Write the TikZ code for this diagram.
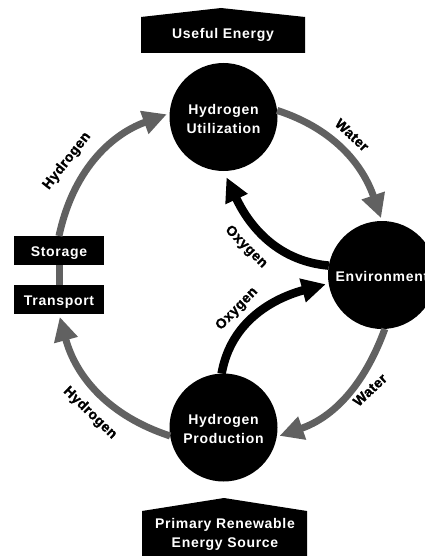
\documentclass[tikz,border=0pt]{standalone}
\usepackage{fontspec}
\setmainfont{Liberation Sans}
\newfontfamily\sidefont[BoldFont={Liberation Sans Bold},BoldFeatures={FakeBold=1.2,LetterSpace=3}]{Liberation Sans}
\newfontfamily\hubfont[BoldFont={Liberation Sans Bold},BoldFeatures={LetterSpace=5}]{Liberation Sans}
\usetikzlibrary{arrows.meta}
\newcommand{\topstrut}{\rule{0pt}{14pt}}
\tikzset{
  x=1pt,y=1pt,
  lab/.style={text=white,font=\hubfont\bfseries\fontsize{14}{19}\selectfont,align=center,inner sep=0pt},
  hub/.style={circle,fill=black,minimum size=108pt,inner sep=0pt,outer sep=0pt,lab},
  tag/.style={fill=black,minimum width=90pt,minimum height=29pt,inner sep=0pt,outer sep=0pt,lab},
  flow/.style={line width=7pt,-{Triangle[width=23pt,length=24pt]},shorten >=3pt},
  gflow/.style={flow,draw=black!62,color=black!62},
  bflow/.style={flow,draw=black,line width=8.5pt},
  side/.style={text=black,font=\sidefont\bfseries\fontsize{14}{16}\selectfont,inner sep=0pt},
}
\begin{document}
\begin{tikzpicture}
\useasboundingbox (0,0) rectangle (424,-556);
\fill[white] (0,0) rectangle (424,-556);
\node[hub] (U) at (223.5,-117) {\topstrut Hydrogen\\Utilization};
\node[hub] (E) at (382,-275) {\topstrut Environment};
\node[hub] (P) at (223.5,-427.5) {\topstrut Hydrogen\\Production};
\node[tag] (S) at (59,-250.5) {\topstrut Storage};
\node[tag] (T) at (59,-299.5) {\topstrut Transport};
% arrows
\draw[gflow] (S.north) to[out=78,in=200] (U.176);
\draw[gflow] (U.7) to[out=-18,in=109] (E.90);
\draw[gflow] (E.-87) to[out=-110,in=19] (P.-10);
\draw[gflow] (P.189) to[out=162,in=285] (T.south);
\draw[draw=black!62,line width=7pt] (S.south) -- (T.north);
\draw[bflow,shorten >=7pt] (E.170) to[out=175,in=295] (U.270);
\draw[bflow] (P.92) to[out=80,in=195] (E.189);
% source and sink boxes
\fill (141,-53) -- (141,-17) -- (221,-8) -- (305,-17) -- (305,-53) -- cycle;
\node[lab] (useful) at (223,-33) {\topstrut Useful Energy};
\fill (142,-556) -- (142,-511) -- (224,-498) -- (307,-511) -- (307,-556) -- cycle;
\node[lab] (primary) at (225,-532) {\topstrut Primary Renewable\\Energy Source};
% side labels
\node[side,rotate=52] (l1) at (67,-161) {Hydrogen};
\node[side,rotate=-43] (l2) at (352,-135) {Water};
\node[side,rotate=-45] (l3) at (246,-247) {Oxygen};
\node[side,rotate=46] (l4) at (237,-309) {Oxygen};
\node[side,rotate=43] (l5) at (370,-390) {Water};
\node[side,rotate=-44] (l6) at (90,-413) {Hydrogen};
\end{tikzpicture}
\end{document}
